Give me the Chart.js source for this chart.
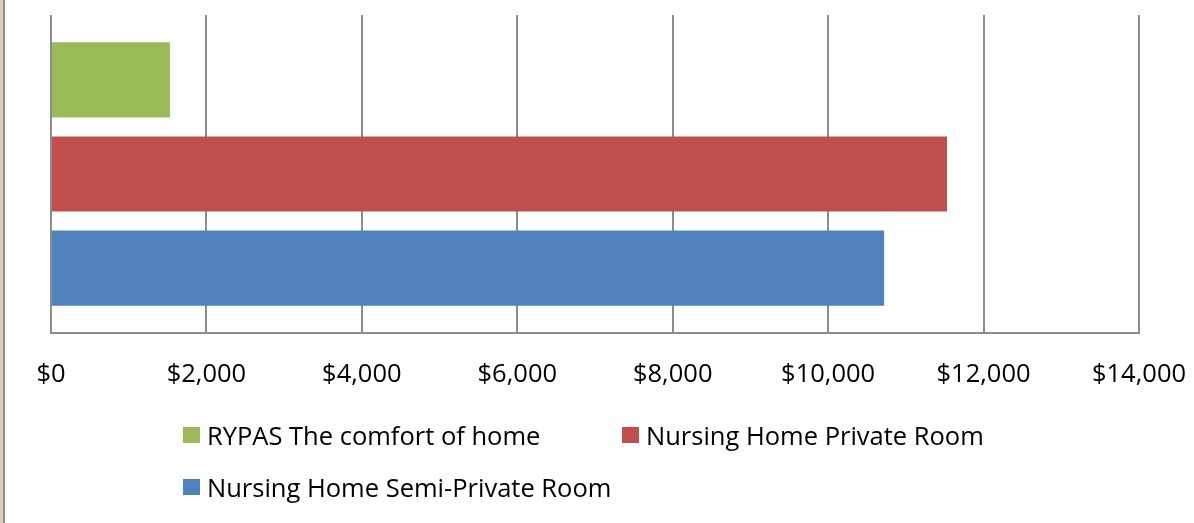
<!DOCTYPE html>
<html>
<head>
<meta charset="utf-8">
<script src="https://cdn.jsdelivr.net/npm/chart.js@4"></script>
<style>
  html, body { margin: 0; padding: 0; background: #fff; }
  body { width: 1194px; height: 523px; position: relative; overflow: hidden; }
  /* screenshot frame on the left edge */
  #frame { position: absolute; left: 0; top: 0; width: 3px; height: 523px;
           background: #dccbb9; border-right: 2px solid #8e8e8e; }
  #wrap { position: absolute; left: 0; top: 0; width: 1194px; height: 523px; }
  #legend { position: absolute; left: 183px; top: 418px;
            display: grid; grid-template-columns: 439px auto; row-gap: 18px;
            font-family: 'Open Sans', sans-serif; font-size: 25.5px; color: #000; }
  .item { display: flex; align-items: center; height: 34px; white-space: nowrap; }
  .box { width: 17px; height: 16px; margin-right: 7px; }
</style>
</head>
<body>
<div id="frame"></div>
<div id="wrap"><canvas id="chart"></canvas></div>
<div id="legend"></div>
<script>
// DATA
const categories = [''];
const seriesNames = [
  'RYPAS The comfort of home',
  'Nursing Home Private Room',
  'Nursing Home Semi-Private Room',
];
const seriesValues = [[1530], [11530], [10720]];
const seriesColors = ['#9bbb59', '#c0504d', '#4f81bd'];
const tickValues = [0, 2000, 4000, 6000, 8000, 10000, 12000, 14000];

const gridColor = '#8c8c8c';

new Chart(document.getElementById('chart'), {
  type: 'bar',
  data: {
    labels: categories,
    datasets: seriesNames.map((name, i) => ({
      label: name,
      data: seriesValues[i],
      backgroundColor: seriesColors[i],
      categoryPercentage: 0.887,
      barPercentage: 0.8,
    })),
  },
  options: {
    indexAxis: 'y',
    responsive: true,
    maintainAspectRatio: false,
    animation: false,
    layout: { padding: { left: 51, right: 55, top: 15, bottom: 0 } },
    scales: {
      x: {
        min: 0,
        max: 14000,
        afterBuildTicks: s => { s.ticks = tickValues.map(v => ({ value: v })); },
        afterFit: s => {
          s.height = 190;
          // let the layout padding alone decide where the plot ends
          s.paddingLeft = 0;
          s.paddingRight = 0;
        },
        grid: { color: gridColor, lineWidth: 2, drawTicks: false },
        border: { display: true, color: gridColor, width: 2 },
        ticks: {
          color: '#000',
          padding: 26,
          maxRotation: 0,
          font: { family: 'Open Sans', size: 25.5 },
          callback: v => '$' + v.toLocaleString('en-US'),
        },
      },
      y: { display: false },
    },
    plugins: {
      legend: { display: false },
      tooltip: { enabled: false },
    },
  },
});

// legend as html, laid out like the original (two columns, left aligned)
const legend = document.getElementById('legend');
seriesNames.forEach((name, i) => {
  const item = document.createElement('div');
  item.className = 'item';
  item.innerHTML = '<span class="box" style="background:' + seriesColors[i] + '"></span>' + name;
  legend.appendChild(item);
});
</script>
</body>
</html>
